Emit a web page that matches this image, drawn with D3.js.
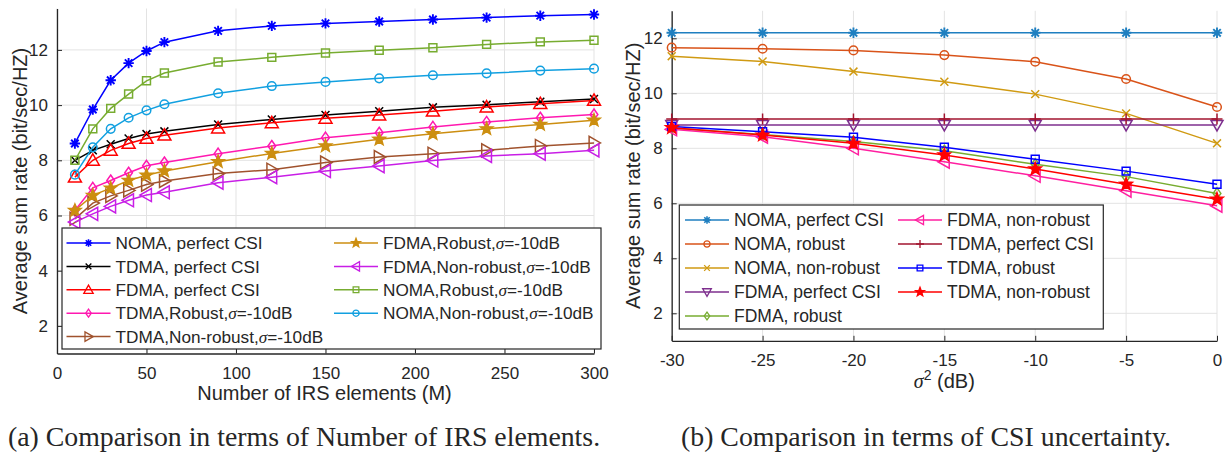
<!DOCTYPE html>
<html>
<head>
<meta charset="utf-8">
<script src="https://cdn.jsdelivr.net/npm/d3@7"></script>
<style>
  html, body { margin: 0; padding: 0; background: #fff; }
  svg { display: block; }
  text { font-family: "Liberation Sans", Arial, Helvetica, sans-serif; fill: #262626; }
</style>
</head>
<body>
<svg id="chart" width="1225" height="455"></svg>
<script>
// ---- data: (a) number of IRS elements ----
const irsM = [10, 20, 30, 40, 50, 60, 90, 120, 150, 180, 210, 240, 270, 300];
const nomaPerfectM   = [8.61, 9.84, 10.90, 11.52, 11.96, 12.28, 12.69, 12.87, 12.96, 13.03, 13.10, 13.17, 13.24, 13.28];
const tdmaPerfectM   = [8.00, 8.36, 8.58, 8.79, 8.95, 9.05, 9.30, 9.48, 9.64, 9.78, 9.92, 10.01, 10.12, 10.22];
const fdmaPerfectM   = [7.39, 8.00, 8.36, 8.61, 8.79, 8.91, 9.17, 9.36, 9.52, 9.64, 9.78, 9.93, 10.05, 10.17];
const tdmaRobustM    = [6.18, 7.00, 7.27, 7.55, 7.80, 7.92, 8.24, 8.52, 8.82, 9.00, 9.21, 9.39, 9.54, 9.66];
const tdmaNonRobustM = [5.88, 6.45, 6.71, 6.91, 7.12, 7.25, 7.52, 7.66, 7.92, 8.12, 8.24, 8.36, 8.52, 8.63];
const fdmaRobustM    = [6.18, 6.73, 6.99, 7.27, 7.46, 7.61, 7.95, 8.25, 8.52, 8.76, 8.96, 9.14, 9.30, 9.45];
const fdmaNonRobustM = [5.76, 6.06, 6.33, 6.55, 6.74, 6.84, 7.19, 7.39, 7.61, 7.79, 7.99, 8.16, 8.24, 8.36];
const nomaRobustM    = [8.00, 9.14, 9.88, 10.40, 10.88, 11.16, 11.56, 11.73, 11.89, 11.99, 12.08, 12.20, 12.29, 12.35];
const nomaNonRobustM = [7.48, 8.47, 9.14, 9.54, 9.81, 10.03, 10.43, 10.69, 10.84, 10.97, 11.08, 11.15, 11.25, 11.32];
const xTicksM = [0, 50, 100, 150, 200, 250, 300];

// ---- data: (b) CSI uncertainty ----
const sigmaDb = [-30, -25, -20, -15, -10, -5, 0];
const nomaPerfectS   = [12.2, 12.2, 12.2, 12.2, 12.2, 12.2, 12.2];
const nomaRobustS    = [11.66, 11.62, 11.56, 11.39, 11.15, 10.52, 9.50];
const nomaNonRobustS = [11.35, 11.16, 10.79, 10.42, 9.97, 9.27, 8.18];
const fdmaPerfectS   = [8.85, 8.85, 8.85, 8.85, 8.85, 8.85, 8.85];
const fdmaRobustS    = [8.74, 8.50, 8.25, 7.91, 7.42, 6.97, 6.36];
const fdmaNonRobustS = [8.69, 8.42, 8.00, 7.51, 7.00, 6.46, 5.91];
const tdmaPerfectS   = [9.07, 9.07, 9.07, 9.07, 9.07, 9.07, 9.07];
const tdmaRobustS    = [8.79, 8.60, 8.40, 8.04, 7.60, 7.17, 6.69];
const tdmaNonRobustS = [8.75, 8.48, 8.18, 7.76, 7.25, 6.69, 6.15];
const xTicksS = [-30, -25, -20, -15, -10, -5, 0];
const yTicks = [2, 4, 6, 8, 10, 12];

const svg = d3.select('#chart');
svg.append('rect').attr('width', 1225).attr('height', 455).attr('fill', '#fff');

// marker shapes, centred on 0,0
function markerPath(type, s) {
    const k = 0.72 * s;
    switch (type) {
        case 'asterisk':
            return `M${-s},0H${s}M0,${-s}V${s}M${-k},${-k}L${k},${k}M${-k},${k}L${k},${-k}`;
        case 'x':
            return `M${-k},${-k}L${k},${k}M${-k},${k}L${k},${-k}`;
        case 'plus':
            return `M${-s},0H${s}M0,${-s}V${s}`;
        case 'triUp':
            return `M0,${-s}L${s},${s * 0.75}L${-s},${s * 0.75}Z`;
        case 'triDown':
            return `M0,${s}L${s},${-s * 0.75}L${-s},${-s * 0.75}Z`;
        case 'triRight':
            return `M${s},0L${-s * 0.75},${s}L${-s * 0.75},${-s}Z`;
        case 'triLeft':
            return `M${-s},0L${s * 0.75},${s}L${s * 0.75},${-s}Z`;
        case 'diamond':
            return `M0,${-s}L${s * 0.7},0L0,${s}L${-s * 0.7},0Z`;
        case 'square':
            return `M${-k},${-k}H${k}V${k}H${-k}Z`;
        case 'circle':
            return `M${s},0A${s},${s} 0 1,1 ${-s},0A${s},${s} 0 1,1 ${s},0Z`;
        case 'star': {
            let p = '';
            for (let i = 0; i < 10; i++) {
                const r = i % 2 === 0 ? s : s * 0.42;
                const a = -Math.PI / 2 + i * Math.PI / 5;
                p += (i === 0 ? 'M' : 'L') + (r * Math.cos(a)).toFixed(2) + ',' + (r * Math.sin(a)).toFixed(2);
            }
            return p + 'Z';
        }
    }
}
const markerSize = { asterisk: 5.2, x: 5.5, plus: 5.5, triUp: 6.5, triDown: 6, triRight: 6.5, triLeft: 6.5,
                     diamond: 5.5, square: 5.5, circle: 4.3, star: 6.5 };

function drawAxes(g, x, y, xTicks) {
    const [x0, x1] = x.range();
    const [y0, y1] = y.range();
    // grid
    g.append('g').selectAll('line').data(xTicks).join('line')
        .attr('x1', d => x(d)).attr('x2', d => x(d)).attr('y1', y0).attr('y2', y1)
        .attr('stroke', '#e3e3e3').attr('stroke-width', 1);
    g.append('g').selectAll('line').data(yTicks).join('line')
        .attr('y1', d => y(d)).attr('y2', d => y(d)).attr('x1', x0).attr('x2', x1)
        .attr('stroke', '#e3e3e3').attr('stroke-width', 1);

    // plain hyphen for negatives, like the original figure
    const fmt = d => String(d);
    const xAxis = g.append('g').attr('transform', `translate(0,${y0})`)
        .call(d3.axisBottom(x).tickValues(xTicks).tickFormat(fmt).tickSizeInner(-5).tickSizeOuter(0));
    const yAxis = g.append('g').attr('transform', `translate(${x0},0)`)
        .call(d3.axisLeft(y).tickValues(yTicks).tickFormat(fmt).tickSizeInner(-5).tickSizeOuter(0).tickPadding(9));
    [xAxis, yAxis].forEach(a => {
        a.select('.domain').attr('stroke', '#262626').attr('stroke-width', 1.3);
        a.selectAll('.tick line').attr('stroke', '#262626').attr('stroke-width', 1);
        a.selectAll('.tick text').attr('fill', '#262626')
            .style('font-family', '"Liberation Sans", Arial, sans-serif').style('font-size', '17px');
    });
    // baseline of x tick labels ~25px under the axis
    xAxis.selectAll('.tick text').attr('dy', null).attr('y', 25);
}

function drawSeries(g, x, y, xs, series) {
    const line = d3.line().x((d, i) => x(xs[i])).y(d => y(d));
    series.forEach(s => {
        g.append('path').datum(s.values)
            .attr('d', line).attr('fill', 'none')
            .attr('stroke', s.color).attr('stroke-width', 1.5);
        g.append('g').selectAll('path').data(s.values).join('path')
            .attr('transform', (d, i) => `translate(${x(xs[i])},${y(d)})`)
            .attr('d', markerPath(s.marker, markerSize[s.marker]))
            .attr('fill', s.marker === 'star' ? s.color : 'none')
            .attr('stroke', s.color)
            .attr('stroke-width', s.marker === 'asterisk' ? 1.9 : 1.5);
    });
}

function labelText(sel, label) {
    // label: array of [text, italic]
    label.forEach(([t, it]) => {
        const ts = sel.append('tspan').text(t);
        if (it) ts.style('font-family', '"Liberation Serif", "Times New Roman", serif').style('font-style', 'italic');
    });
}

function drawLegend(g, box, cols, rowY, rowH, series, fontSize) {
    g.append('rect').attr('x', box[0]).attr('y', box[1]).attr('width', box[2] - box[0]).attr('height', box[3] - box[1])
        .attr('fill', '#fff').attr('stroke', '#262626').attr('stroke-width', 1.2);
    series.forEach(s => {
        const cx = cols[s.col];
        const cy = rowY + s.row * rowH;
        g.append('line').attr('x1', cx).attr('x2', cx + 44).attr('y1', cy).attr('y2', cy)
            .attr('stroke', s.color).attr('stroke-width', 1.5);
        g.append('path').attr('transform', `translate(${cx + 22},${cy})`)
            .attr('d', markerPath(s.marker, markerSize[s.marker] * 0.72))
            .attr('fill', s.marker === 'star' ? s.color : 'none')
            .attr('stroke', s.color).attr('stroke-width', s.marker === 'asterisk' ? 1.6 : 1.3);
        const t = g.append('text').attr('x', cx + 49).attr('y', cy).attr('dy', '0.36em')
            .style('font-size', fontSize + 'px');
        labelText(t, s.label);
    });
}

const sig = [['σ', true]];

// ---------- (a) ----------
const xa = d3.scaleLinear().domain([0, 300]).range([57, 594]);
const ya = d3.scaleLinear().domain([1, 13.5]).range([353.5, 8.5]);
const ga = svg.append('g');
drawAxes(ga, xa, ya, xTicksM);

const seriesA = [
    { values: nomaPerfectM, color: '#0000ff', marker: 'asterisk', col: 0, row: 0, label: [['NOMA, perfect CSI']] },
    { values: tdmaPerfectM, color: '#000000', marker: 'x', col: 0, row: 1, label: [['TDMA, perfect CSI']] },
    { values: fdmaPerfectM, color: '#ff0000', marker: 'triUp', col: 0, row: 2, label: [['FDMA, perfect CSI']] },
    { values: tdmaRobustM, color: '#ff18b0', marker: 'diamond', col: 0, row: 3, label: [['TDMA,Robust,'], ...sig, ['=-10dB']] },
    { values: tdmaNonRobustM, color: '#a0522d', marker: 'triRight', col: 0, row: 4, label: [['TDMA,Non-robust,'], ...sig, ['=-10dB']] },
    { values: fdmaRobustM, color: '#cc8e10', marker: 'star', col: 1, row: 0, label: [['FDMA,Robust,'], ...sig, ['=-10dB']] },
    { values: fdmaNonRobustM, color: '#c81ee6', marker: 'triLeft', col: 1, row: 1, label: [['FDMA,Non-robust,'], ...sig, ['=-10dB']] },
    { values: nomaRobustM, color: '#77ac30', marker: 'square', col: 1, row: 2, label: [['NOMA,Robust,'], ...sig, ['=-10dB']] },
    { values: nomaNonRobustM, color: '#12a0e0', marker: 'circle', col: 1, row: 3, label: [['NOMA,Non-robust,'], ...sig, ['=-10dB']] }
];
drawSeries(ga, xa, ya, irsM, seriesA);
drawLegend(ga, [62, 228, 601, 349], [66.5, 334], 243, 23.4, seriesA, 17.2);

ga.append('text').attr('x', (57 + 594) / 2 - 1).attr('y', 400).attr('text-anchor', 'middle')
    .style('font-size', '20px').text('Number of IRS elements (M)');
ga.append('text').attr('transform', `translate(26.5,${(8.5 + 353.5) / 2}) rotate(-90)`).attr('text-anchor', 'middle')
    .style('font-size', '20px').text('Average sum rate (bit/sec/HZ)');

// ---------- (b) ----------
const xb = d3.scaleLinear().domain([-30, 0]).range([671.7, 1217]);
const yb = d3.scaleLinear().domain([1, 13]).range([340.8, 10.8]);
const gb = svg.append('g');
drawAxes(gb, xb, yb, xTicksS);

const seriesB = [
    { values: nomaPerfectS, color: '#1f7fc0', marker: 'asterisk', col: 0, row: 0, label: [['NOMA, perfect CSI']] },
    { values: nomaRobustS, color: '#d95319', marker: 'circle', col: 0, row: 1, label: [['NOMA, robust']] },
    { values: nomaNonRobustS, color: '#d09a12', marker: 'x', col: 0, row: 2, label: [['NOMA, non-robust']] },
    { values: fdmaPerfectS, color: '#7e2f8e', marker: 'triDown', col: 0, row: 3, label: [['FDMA, perfect CSI']] },
    { values: fdmaRobustS, color: '#77ac30', marker: 'diamond', col: 0, row: 4, label: [['FDMA, robust']] },
    { values: fdmaNonRobustS, color: '#ff1fa0', marker: 'triLeft', col: 1, row: 0, label: [['FDMA, non-robust']] },
    { values: tdmaPerfectS, color: '#a2142f', marker: 'plus', col: 1, row: 1, label: [['TDMA, perfect CSI']] },
    { values: tdmaRobustS, color: '#0000ff', marker: 'square', col: 1, row: 2, label: [['TDMA, robust']] },
    { values: tdmaNonRobustS, color: '#ff0000', marker: 'star', col: 1, row: 3, label: [['TDMA, non-robust']] }
];
drawSeries(gb, xb, yb, sigmaDb, seriesB);
drawLegend(gb, [679.3, 205, 1103.3, 329], [685, 898], 220, 24, seriesB, 17.5);

const xlb = gb.append('text').attr('x', (671.7 + 1217) / 2).attr('y', 388).attr('text-anchor', 'middle')
    .style('font-size', '20px');
xlb.append('tspan').text('σ').style('font-family', '"Liberation Serif", serif').style('font-style', 'italic');
xlb.append('tspan').text('2').attr('dy', -8).style('font-size', '14px');
xlb.append('tspan').text(' (dB)').attr('dy', 8);
gb.append('text').attr('transform', `translate(639.5,${(10.8 + 340.8) / 2}) rotate(-90)`).attr('text-anchor', 'middle')
    .style('font-size', '20px').text('Average sum rate (bit/sec/HZ)');

// ---------- captions ----------
const capFont = '"Liberation Serif", "Times New Roman", Times, serif';
svg.append('text').attr('x', 8).attr('y', 446).style('font-family', capFont).style('font-size', '27.8px')
    .attr('fill', '#000').text('(a) Comparison in terms of Number of IRS elements.');
svg.append('text').attr('x', 681).attr('y', 446).style('font-family', capFont).style('font-size', '27.8px')
    .attr('fill', '#000').text('(b) Comparison in terms of CSI uncertainty.');
</script>
</body>
</html>
